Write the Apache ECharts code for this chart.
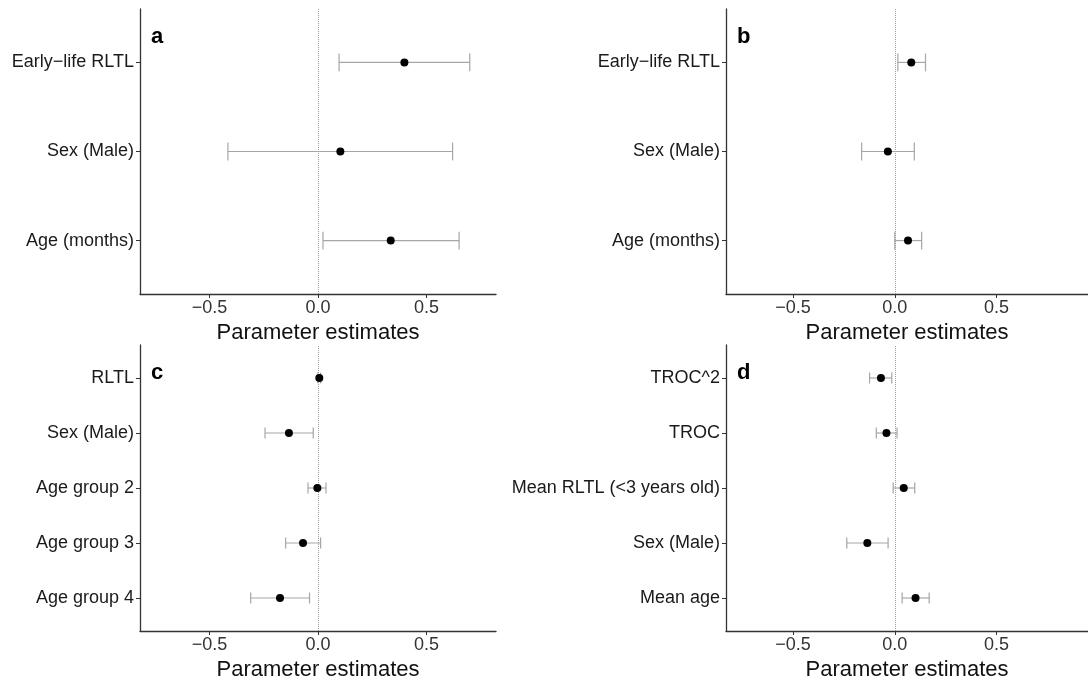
<!DOCTYPE html>
<html>
<head>
<meta charset="utf-8">
<script src="https://cdn.jsdelivr.net/npm/echarts@6/dist/echarts.min.js"></script>
<style>
html, body { margin: 0; padding: 0; background: #fff; }
#chart { width: 1088px; height: 686px; }
</style>
</head>
<body>
<div id="chart"></div>
<script>
// categories are listed bottom to top (position 1 is the lowest row)
var labelsA = ['Age (months)', 'Sex (Male)', 'Early\u2212life RLTL'];
var estA = [0.335, 0.103, 0.398];
var lowA = [0.023, -0.415, 0.097];
var highA = [0.650, 0.620, 0.699];

var labelsB = ['Age (months)', 'Sex (Male)', 'Early\u2212life RLTL'];
var estB = [0.065, -0.034, 0.081];
var lowB = [0.000, -0.163, 0.015];
var highB = [0.132, 0.096, 0.151];

var labelsC = ['Age group 4', 'Age group 3', 'Age group 2', 'Sex (Male)', 'RLTL'];
var estC = [-0.175, -0.069, -0.003, -0.134, 0.006];
var lowC = [-0.310, -0.149, -0.046, -0.244, 0.000];
var highC = [-0.039, 0.012, 0.037, -0.022, 0.012];

var labelsD = ['Mean age', 'Sex (Male)', 'Mean RLTL (<3 years old)', 'TROC', 'TROC^2'];
var estD = [0.102, -0.135, 0.044, -0.041, -0.068];
var lowD = [0.036, -0.236, -0.008, -0.091, -0.124];
var highD = [0.169, -0.033, 0.098, 0.011, -0.015];

var xTicks = [-0.5, 0, 0.5];
var panelLetters = ['a', 'b', 'c', 'd'];

var chart = echarts.init(document.getElementById('chart'));
var FONT = '"Liberation Sans", Arial, sans-serif';

var panels = [
    {labels: labelsA, est: estA, low: lowA, high: highA, grid: {left: 140, top: 9, width: 356, height: 285}, xmin: -0.82, xmax: 0.82},
    {labels: labelsB, est: estB, low: lowB, high: highB, grid: {left: 726, top: 9, width: 365, height: 285}, xmin: -0.83, xmax: 0.95},
    {labels: labelsC, est: estC, low: lowC, high: highC, grid: {left: 140, top: 345, width: 356, height: 286}, xmin: -0.82, xmax: 0.82},
    {labels: labelsD, est: estD, low: lowD, high: highD, grid: {left: 726, top: 345, width: 365, height: 286}, xmin: -0.83, xmax: 0.95}
];

function minusFmt(v) {
    if (Math.abs(v) < 1e-9) return '0.0';
    return v < 0 ? '\u2212' + Math.abs(v).toFixed(1) : v.toFixed(1);
}

function renderBar(params, api) {
    var lo = api.coord([api.value(0), api.value(2)]);
    var hi = api.coord([api.value(1), api.value(2)]);
    var half = api.size([0, 0.1])[1];
    var st = {stroke: '#a6a6a6', lineWidth: 1.2};
    return {
        type: 'group',
        children: [
            {type: 'line', shape: {x1: lo[0], y1: lo[1], x2: hi[0], y2: hi[1]}, style: st},
            {type: 'line', shape: {x1: lo[0], y1: lo[1] - half, x2: lo[0], y2: lo[1] + half}, style: st},
            {type: 'line', shape: {x1: hi[0], y1: hi[1] - half, x2: hi[0], y2: hi[1] + half}, style: st}
        ]
    };
}

var grids = [], xAxes = [], yAxes = [], series = [], titles = [];

panels.forEach(function (p, i) {
    var n = p.labels.length;
    var pos = p.labels.map(function (_, k) { return k + 1; });
    grids.push(p.grid);
    xAxes.push({
        type: 'value', gridIndex: i, min: p.xmin, max: p.xmax,
        name: 'Parameter estimates', nameLocation: 'middle', nameGap: 28,
        nameTextStyle: {fontFamily: FONT, fontSize: 22, color: '#111'},
        axisLine: {show: true, onZero: false, lineStyle: {color: '#333', width: 1.3}},
        axisTick: {show: true, length: 4, customValues: xTicks, lineStyle: {color: '#333'}},
        axisLabel: {customValues: xTicks, formatter: minusFmt, margin: 5, fontFamily: FONT, fontSize: 18, color: '#333'},
        splitLine: {show: false}
    });
    yAxes.push({
        type: 'value', gridIndex: i, min: 0.4, max: n + 0.6,
        axisLine: {show: true, onZero: false, lineStyle: {color: '#333', width: 1.3}},
        axisTick: {show: true, length: 4, customValues: pos, lineStyle: {color: '#333'}},
        axisLabel: {
            customValues: pos, margin: 6, fontFamily: FONT, fontSize: 18, color: '#1a1a1a',
            formatter: function (v) { return p.labels[Math.round(v) - 1]; }
        },
        splitLine: {show: false}
    });
    series.push({
        type: 'custom', xAxisIndex: i, yAxisIndex: i,
        renderItem: renderBar, silent: true, z: 2,
        data: pos.map(function (y, k) { return [p.low[k], p.high[k], y]; })
    });
    series.push({
        type: 'scatter', xAxisIndex: i, yAxisIndex: i, z: 3,
        symbol: 'circle', symbolSize: 8,
        itemStyle: {color: '#000', opacity: 1},
        data: pos.map(function (y, k) { return [p.est[k], y]; }),
        markLine: {
            silent: true, symbol: 'none', z: 1,
            label: {show: false},
            lineStyle: {color: '#9a9a9a', type: 'dotted', width: 1},
            data: [{xAxis: 0}]
        }
    });
    titles.push({
        text: panelLetters[i],
        left: p.grid.left + 6, top: p.grid.top + 12,
        textStyle: {fontFamily: FONT, fontSize: 22, fontWeight: 'bold', color: '#000'}
    });
});

chart.setOption({
    animation: false,
    backgroundColor: '#fff',
    title: titles,
    grid: grids,
    xAxis: xAxes,
    yAxis: yAxes,
    series: series
});
</script>
</body>
</html>
